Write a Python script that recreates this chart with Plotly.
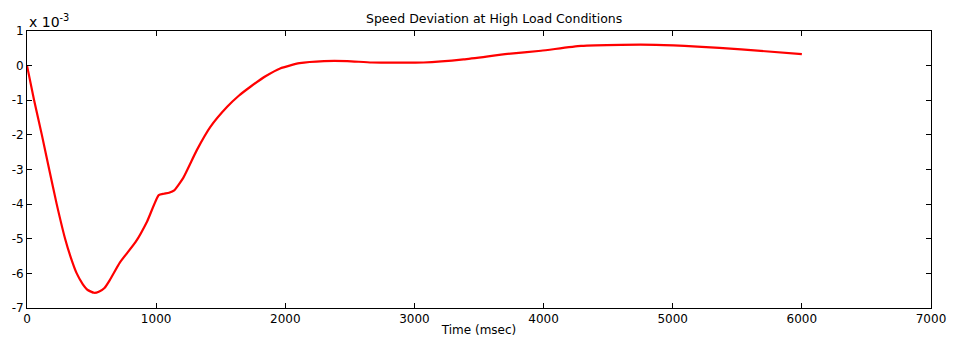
import plotly.graph_objects as go

time_ms = [0, 55, 115, 172, 230, 295, 340, 385, 430, 470, 520, 560, 600, 640, 720, 840, 930, 1020,
           1060, 1100, 1140, 1210, 1315, 1420, 1550, 1640, 1730, 1850, 1960, 2110, 2300, 2480,
           2670, 3070, 3380, 3720, 3980, 4290, 4600, 4870, 5190, 5530, 6000]
speed_dev_e3 = [0, -1, -2, -3, -4, -5, -5.55, -6.0, -6.3, -6.48, -6.56, -6.52, -6.42, -6.2, -5.68, -5.1, -4.5, -3.74,
                -3.7, -3.67, -3.6, -3.24, -2.44, -1.77, -1.19, -0.87, -0.61, -0.3, -0.08, 0.07, 0.13, 0.13,
                0.09, 0.09, 0.18, 0.34, 0.43, 0.57, 0.6, 0.6, 0.55, 0.47, 0.33]

x_ticks = [0, 1000, 2000, 3000, 4000, 5000, 6000, 7000]
y_ticks = [1, 0, -1, -2, -3, -4, -5, -6, -7]

font = dict(family="DejaVu Sans, Arial, sans-serif", size=12, color="black")
title_font = dict(family="DejaVu Sans, Arial, sans-serif", size=12.5, color="black")
exp_font = dict(family="DejaVu Sans, Arial, sans-serif", size=14, color="black")

fig = go.Figure()
fig.add_trace(go.Scatter(x=time_ms, y=speed_dev_e3, mode="lines",
                         line=dict(color="#ff0000", width=2.2, shape="spline", smoothing=0.5),
                         showlegend=False))

axis_common = dict(showline=True, linecolor="black", linewidth=1, mirror="ticks",
                   ticks="inside", ticklen=5, tickcolor="black", tickwidth=1,
                   showgrid=False, zeroline=False, tickfont=font, automargin=False)

# page body adds an 8px offset, so the figure is sized 947x333
fig.update_layout(
    width=947, height=333,
    margin=dict(l=19, r=24, t=23, b=33),
    paper_bgcolor="white", plot_bgcolor="white",
    font=font,
    xaxis=dict(range=[0, 7000], tickvals=x_ticks, ticktext=[str(v) for v in x_ticks],
               title=dict(text="Time (msec)", font=font, standoff=0), **axis_common),
    yaxis=dict(range=[-7, 1], tickvals=y_ticks, ticktext=[str(v) for v in y_ticks],
               **axis_common),
    annotations=[
        dict(text="Speed Deviation at High Load Conditions", x=0.517, y=1, xref="paper",
             yref="paper", yanchor="bottom", xanchor="center", yshift=3, showarrow=False,
             font=title_font),
        dict(text="x 10<sup>-3</sup>", x=0, y=1, xref="paper", yref="paper",
             xanchor="left", yanchor="bottom", yshift=-1, showarrow=False, font=exp_font),
    ],
)

fig.write_html("out.html")
